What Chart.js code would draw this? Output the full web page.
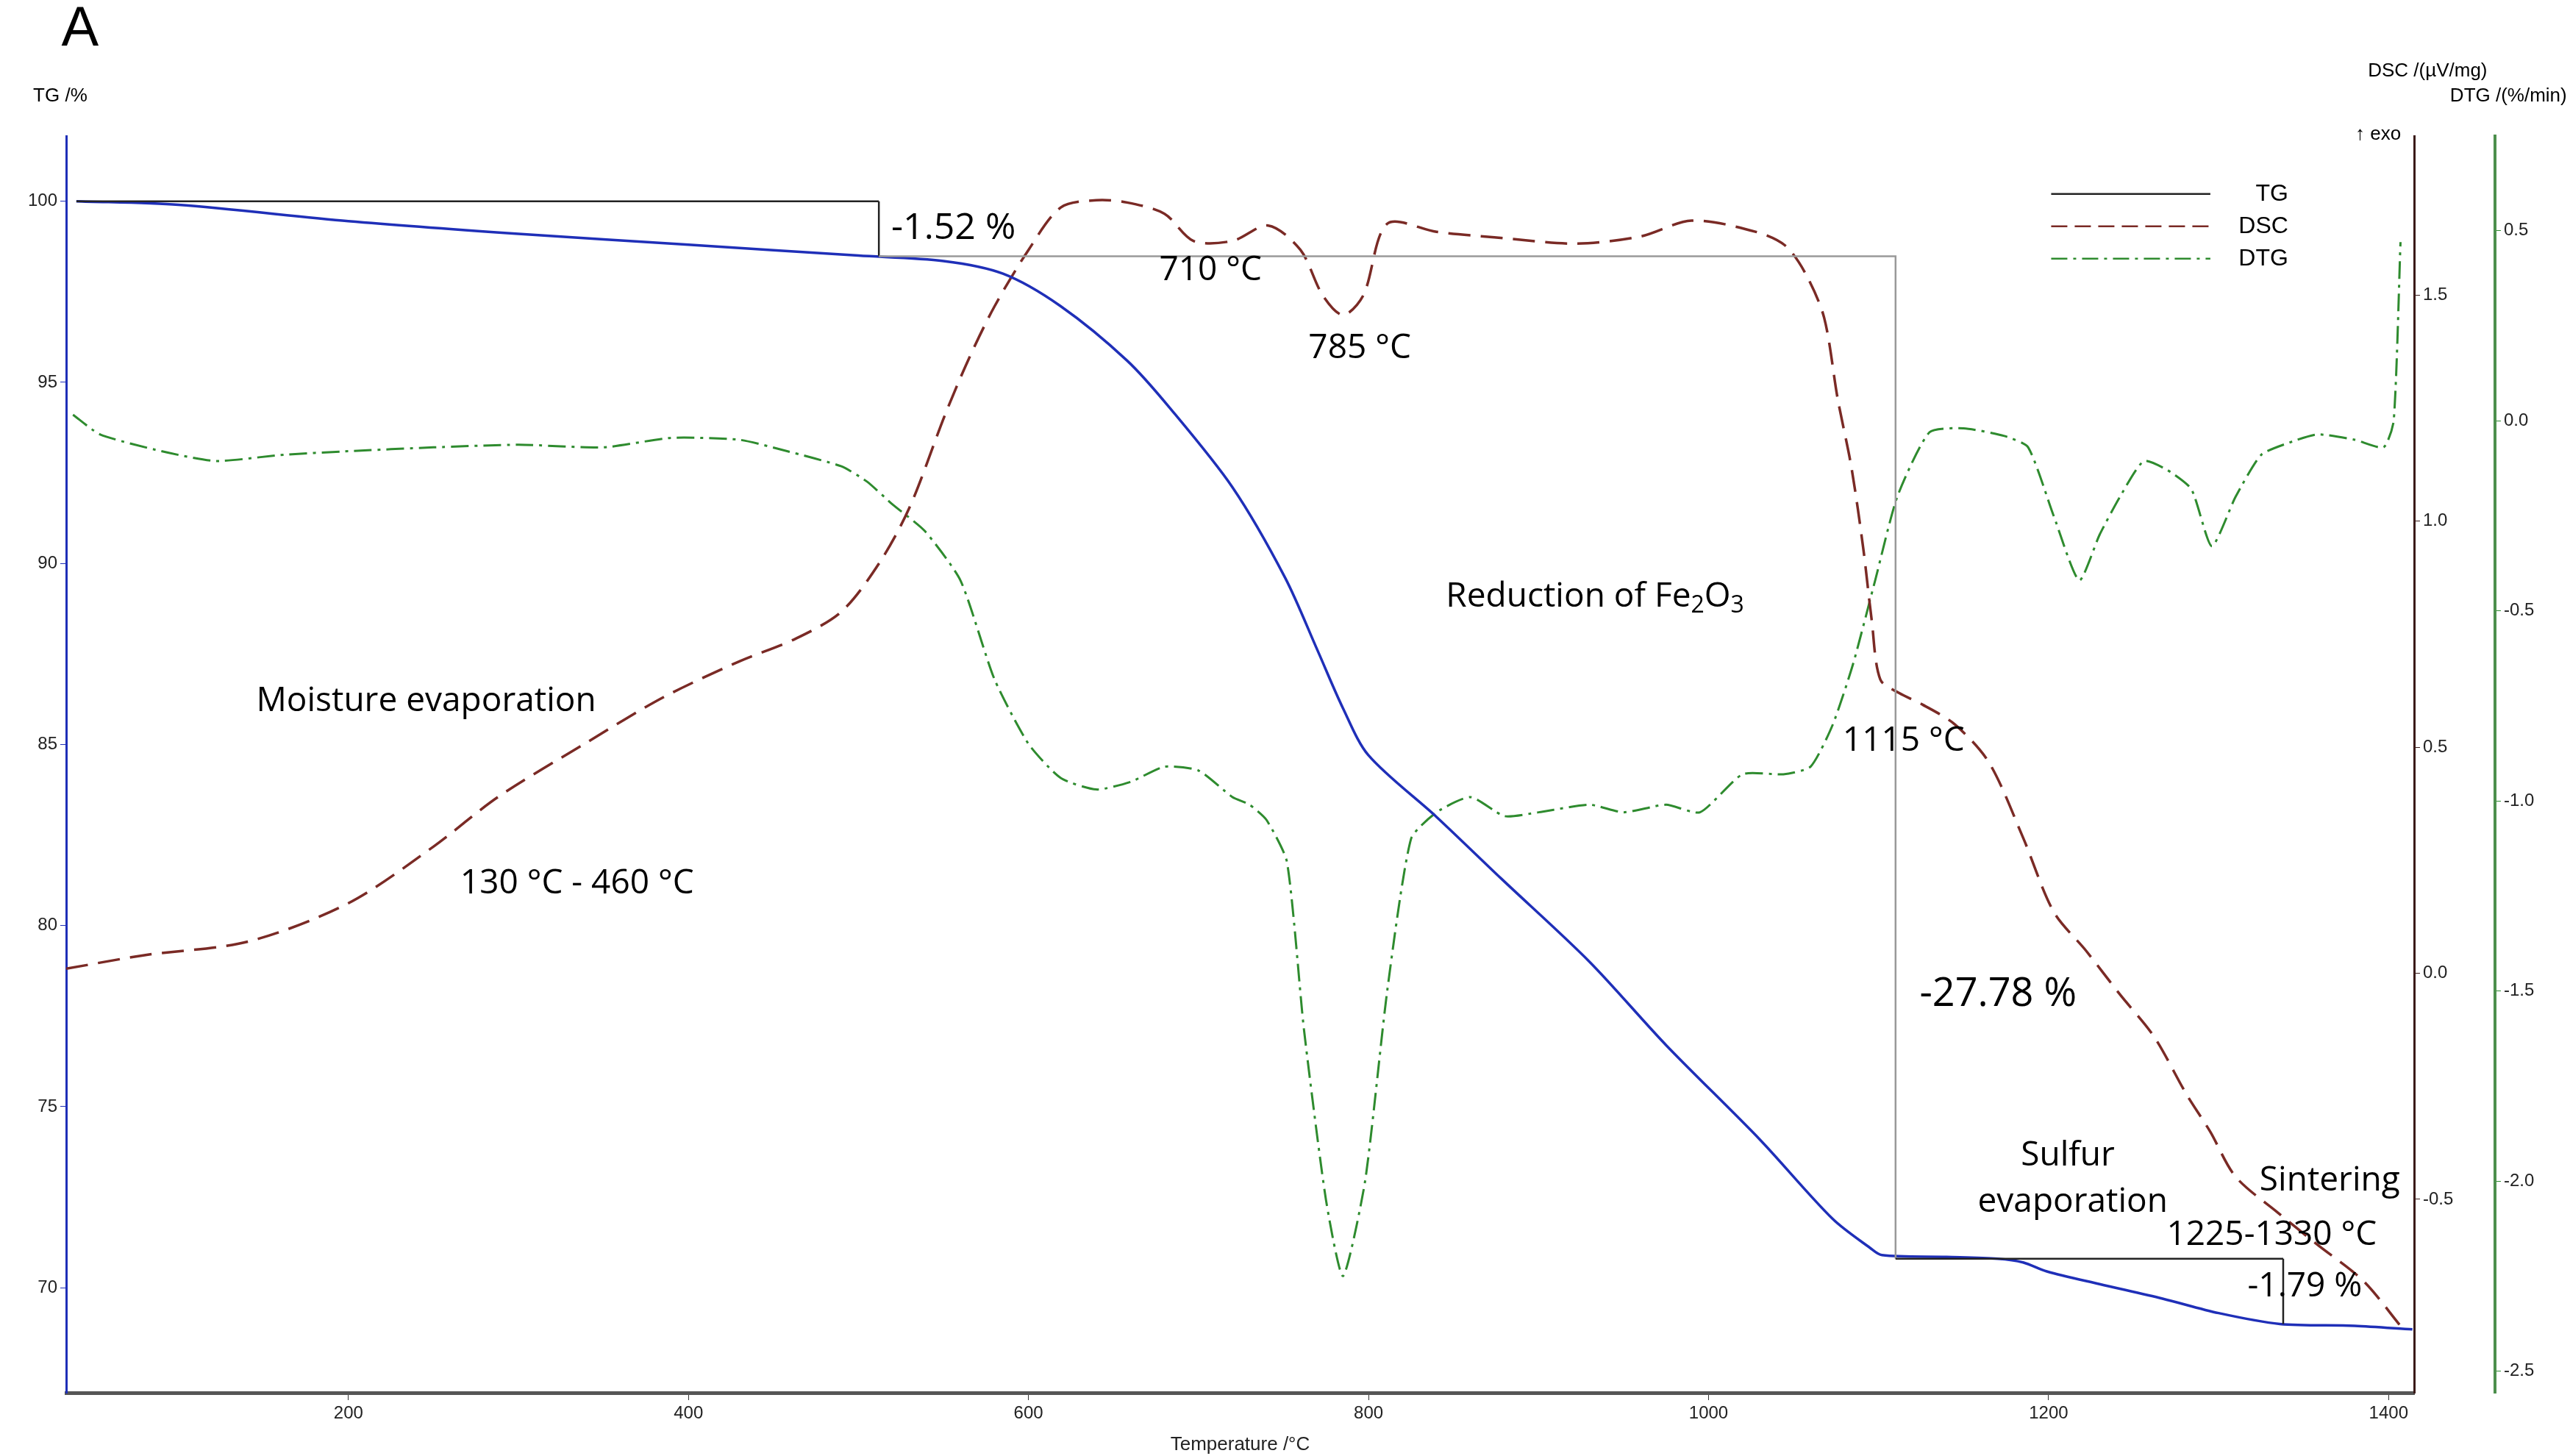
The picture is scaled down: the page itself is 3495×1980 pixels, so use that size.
<!DOCTYPE html>
<html><head><meta charset="utf-8">
<script src="https://cdn.jsdelivr.net/npm/chart.js@4/dist/chart.umd.min.js"></script>
<style>html,body{margin:0;padding:0;background:#fff}#w{width:3495px;height:1980px}</style>
</head><body><div id="w"><canvas id="c" width="3495" height="1980"></canvas></div>
<script>
const tgT   =[40,100,200,300,400,500,550,585,619,658,683,720,751,770,785,800,840,878,930,975,1030,1073,1095,1102,1140,1170,1185,1199,1230,1267,1300,1336,1380,1414];
const tgV   =[100,99.9,99.45,99.1,98.8,98.5,98.35,98.0,97.1,95.6,94.3,92.1,89.6,87.6,86.0,84.7,83.0,81.3,79.0,76.7,74.1,71.9,71.1,70.9,70.85,70.8,70.7,70.45,70.1,69.7,69.3,69.0,68.95,68.85];
const dscT  =[34,80,141,200,250,288,340,385,430,463,490,512,530,551,565,580,600,619,640,658,680,697,720,741,760,773,785,797,811,840,874,922,960,990,1028,1045,1057,1068,1076,1084,1091,1096,1101,1112,1126,1145,1165,1185,1203,1222,1242,1262,1281,1295,1310,1335,1358,1385,1407];
const dscV  =[0.01,0.04,0.07,0.155,0.28,0.39,0.51,0.61,0.69,0.74,0.80,0.906,1.03,1.236,1.36,1.475,1.60,1.694,1.71,1.705,1.68,1.62,1.62,1.654,1.60,1.50,1.456,1.50,1.658,1.64,1.628,1.614,1.63,1.665,1.64,1.61,1.548,1.45,1.27,1.12,0.94,0.78,0.65,0.62,0.594,0.55,0.466,0.30,0.136,0.05,-0.047,-0.14,-0.267,-0.35,-0.45,-0.53,-0.6,-0.68,-0.78];
const dtgT  =[38,54,90,122,160,200,250,300,350,390,430,458,490,505,520,539,560,580,600,619,640,660,680,700,720,730,740,752,762,775,785,798,811,825,840,860,880,900,930,950,975,995,1020,1044,1060,1073,1085,1098,1111,1130,1150,1174,1188,1203,1218,1230,1242,1256,1270,1284,1296,1310,1325,1340,1358,1380,1397,1403,1407];
const dtgV  =[0.016,-0.036,-0.08,-0.106,-0.09,-0.08,-0.07,-0.063,-0.07,-0.045,-0.05,-0.08,-0.12,-0.16,-0.22,-0.29,-0.42,-0.68,-0.85,-0.94,-0.97,-0.95,-0.91,-0.92,-0.99,-1.01,-1.05,-1.16,-1.6,-2.05,-2.25,-2.0,-1.5,-1.10,-1.03,-0.99,-1.04,-1.03,-1.01,-1.03,-1.01,-1.03,-0.93,-0.93,-0.91,-0.80,-0.64,-0.42,-0.2,-0.03,-0.02,-0.04,-0.07,-0.25,-0.42,-0.3,-0.2,-0.106,-0.13,-0.18,-0.33,-0.2,-0.09,-0.06,-0.036,-0.05,-0.07,0.0,0.47];
const xTicks=[200,400,600,800,1000,1200,1400];
const tgTicks=[70,75,80,85,90,95,100];
const dscTicks=[-0.5,0.0,0.5,1.0,1.5];
const dtgTicks=[-2.5,-2.0,-1.5,-1.0,-0.5,0.0,0.5];

const S=2.255;
const pts=(t,v)=>t.map((x,i)=>({x,y:v[i]}));
const setTicks=arr=>function(sc){sc.ticks=arr.map(v=>({value:v}));};
const tf={family:'Liberation Sans',size:24};

const ann={id:'ann',afterDatasetsDraw(ch){
  const c=ch.ctx,x=ch.scales.x,y=ch.scales.y;
  const X=v=>x.getPixelForValue(v),Y=v=>y.getPixelForValue(v);
  c.save();
  c.lineWidth=2.5;
  c.strokeStyle='#222';
  c.beginPath();c.moveTo(X(40),Y(100));c.lineTo(X(512),Y(100));c.moveTo(X(512),Y(100));c.lineTo(X(512),Y(98.48));c.stroke();
  c.strokeStyle='#999';
  c.beginPath();c.moveTo(X(512),Y(98.48));c.lineTo(X(1110),Y(98.48));c.lineTo(X(1110),Y(70.8));c.stroke();
  c.strokeStyle='#222';
  c.beginPath();c.moveTo(X(1110),Y(70.8));c.lineTo(X(1338),Y(70.8));c.moveTo(X(1338),Y(70.8));c.lineTo(X(1338),Y(69.0));c.stroke();
  c.fillStyle='#000';c.textBaseline='middle';c.textAlign='center';
  const big='46px "Open Sans"';
  function t(s,px,py,f){c.font=f||big;c.fillText(s,px*S,py*S);}
  t('-1.52 %',575,138,'50px "Open Sans"');
  t('710 °C',730,163);t('785 °C',820,210);
  c.textAlign='left';c.font=big;
  let sx=872*S,sy=360*S;
  const parts=[['Reduction of Fe',0],['2',1],['O',0],['3',1]];
  for(const [s,sub] of parts){c.font=sub?'32px "Open Sans"':big;c.fillText(s,sx,sy+(sub?12:0));sx+=c.measureText(s).width;}
  c.textAlign='center';
  t('Moisture evaporation',257,423);
  t('130 °C - 460 °C',348,533);
  t('1115 °C',1148,447);
  t('-27.78 %',1205,600,'54px "Open Sans"');
  t('Sulfur',1247,697);t('evaporation',1250,725);
  t('Sintering',1405,712);t('1225-1330 °C',1370,745);t('-1.79 %',1390,776);
  c.font='76px "Liberation Sans"';c.textAlign='left';c.fillText('A',37*S,18*S);
  c.font='26px "Liberation Sans"';
  c.fillText('TG /%',20*S,58*S);
  c.textAlign='right';c.fillText('DSC /(µV/mg)',1500*S,43*S);c.fillText('DTG /(%/min)',1548*S,58*S);
  c.fillText('↑ exo',1448*S,81*S);
  const L=[['TG',[],'#222'],['DSC',[22,10],'#7a2a25'],['DTG',[22,8,4,8],'#2e8b2e']];
  L.forEach((l,i)=>{const yy=(117+i*19.5)*S;c.strokeStyle=l[2];c.lineWidth=2.5;c.setLineDash(l[1]);c.beginPath();c.moveTo(1237*S,yy);c.lineTo(1333*S,yy);c.stroke();c.setLineDash([]);c.fillStyle='#000';c.font='32px "Liberation Sans"';c.textAlign='right';c.fillText(l[0],1380*S,yy);});
  c.restore();
}};

new Chart(document.getElementById('c'),{
 type:'line',
 data:{datasets:[
  {label:'TG',data:pts(tgT,tgV),yAxisID:'y',borderColor:'#1f2fb8',borderWidth:3.5,pointRadius:0,tension:0.3},
  {label:'DSC',data:pts(dscT,dscV),yAxisID:'yDSC',borderColor:'#7a2a25',borderWidth:3.5,borderDash:[30,14],pointRadius:0,tension:0.3},
  {label:'DTG',data:pts(dtgT,dtgV),yAxisID:'yDTG',borderColor:'#2e8b2e',borderWidth:3,borderDash:[24,8,4,8],pointRadius:0,tension:0.2}
 ]},
 options:{responsive:false,animation:false,devicePixelRatio:1,
  layout:{padding:{top:185,left:0,right:0,bottom:0}},
  plugins:{legend:{display:false},tooltip:{enabled:false}},
  scales:{
   x:{type:'linear',min:34,max:1415,afterBuildTicks:setTicks(xTicks),afterFit(s){s.height=86;},
      grid:{drawOnChartArea:false,tickLength:10,color:'#333'},border:{color:'#555',width:5},
      ticks:{font:tf,color:'#222',maxRotation:0,padding:4,callback:v=>String(v)},
      title:{display:true,text:'Temperature /°C',font:{family:'Liberation Sans',size:26},color:'#222',padding:0}},
   y:{position:'left',min:67.1,max:101.8,afterBuildTicks:setTicks(tgTicks),afterFit(s){s.width=90;},
      grid:{drawOnChartArea:false,tickLength:8,color:'#1f2fb8'},border:{color:'#1f2fb8',width:3},
      ticks:{font:tf,color:'#222',padding:4}},
   yDSC:{position:'right',weight:0,min:-0.928,max:1.852,afterBuildTicks:setTicks(dscTicks),afterFit(s){s.width=110;},
      grid:{drawOnChartArea:false,tickLength:8,color:'#3a1a18'},border:{color:'#3a1a18',width:3},
      ticks:{font:tf,color:'#222',padding:4,callback:v=>v.toFixed(1)}},
   yDTG:{position:'right',weight:1,min:-2.557,max:0.749,afterBuildTicks:setTicks(dtgTicks),afterFit(s){s.width=102;},
      grid:{drawOnChartArea:false,tickLength:8,color:'#2e8b2e'},border:{color:'#4d8f4d',width:4},
      ticks:{font:tf,color:'#222',padding:4,callback:v=>v.toFixed(1)}}
  }},
 plugins:[ann]
});
</script></body></html>
